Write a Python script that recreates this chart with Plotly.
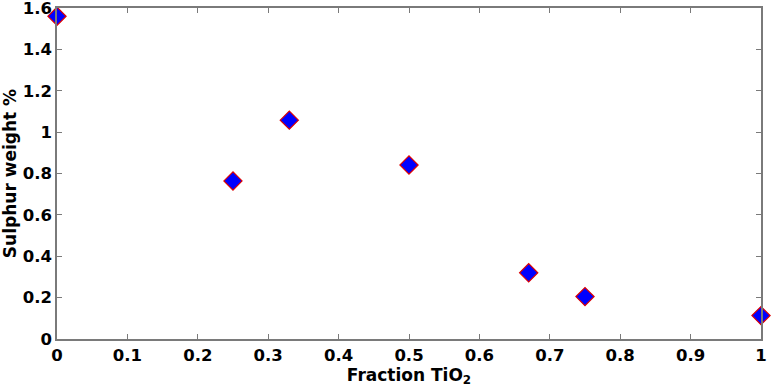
import plotly.graph_objects as go

fraction_tio2 = [0.0, 0.25, 0.33, 0.5, 0.67, 0.75, 1.0]
sulphur_wt = [1.56, 0.764, 1.058, 0.841, 0.32, 0.205, 0.113]

x_ticks = [0, 0.1, 0.2, 0.3, 0.4, 0.5, 0.6, 0.7, 0.8, 0.9, 1]
x_labels = ["0", "0.1", "0.2", "0.3", "0.4", "0.5", "0.6", "0.7", "0.8", "0.9", "1"]
y_ticks = [0, 0.2, 0.4, 0.6, 0.8, 1.0, 1.2, 1.4, 1.6]
y_labels = ["0", "0.2", "0.4", "0.6", "0.8", "1", "1.2", "1.4", "1.6"]

font = dict(family="DejaVu Sans", size=16.5, color="black", weight="bold")
title_font = dict(family="DejaVu Sans", size=17, color="black", weight="bold")
axis_col = "#7a7a7a"

fig = go.Figure(go.Scatter(
    x=fraction_tio2, y=sulphur_wt, mode="markers",
    marker=dict(symbol="diamond", size=14, color="#0000ff",
                line=dict(color="#dd0000", width=1.2)),
    cliponaxis=False,
))

axis_common = dict(
    showgrid=False, zeroline=False, showline=True, linecolor=axis_col, linewidth=1.5,
    mirror="allticks", ticks="inside", ticklen=5, tickcolor=axis_col, tickwidth=1,
    tickfont=font, automargin=False, ticklabeloverflow="allow",
)
fig.update_xaxes(range=[0, 1], tickvals=x_ticks, ticktext=x_labels,
                 title=dict(text="Fraction TiO<sub>2</sub>", font=title_font, standoff=2),
                 **axis_common)
fig.update_yaxes(range=[0, 1.6], tickvals=y_ticks, ticktext=y_labels,
                 title=dict(text="Sulphur weight %", font=title_font, standoff=4),
                 **axis_common)
fig.update_layout(
    width=774, height=391, margin=dict(l=57, r=13, t=8, b=52),
    plot_bgcolor="white", paper_bgcolor="white", showlegend=False, font=font,
)
fig.write_html("out.html", config={"displayModeBar": False},
               post_script="document.body.style.margin='0';document.body.style.overflow='hidden';")
